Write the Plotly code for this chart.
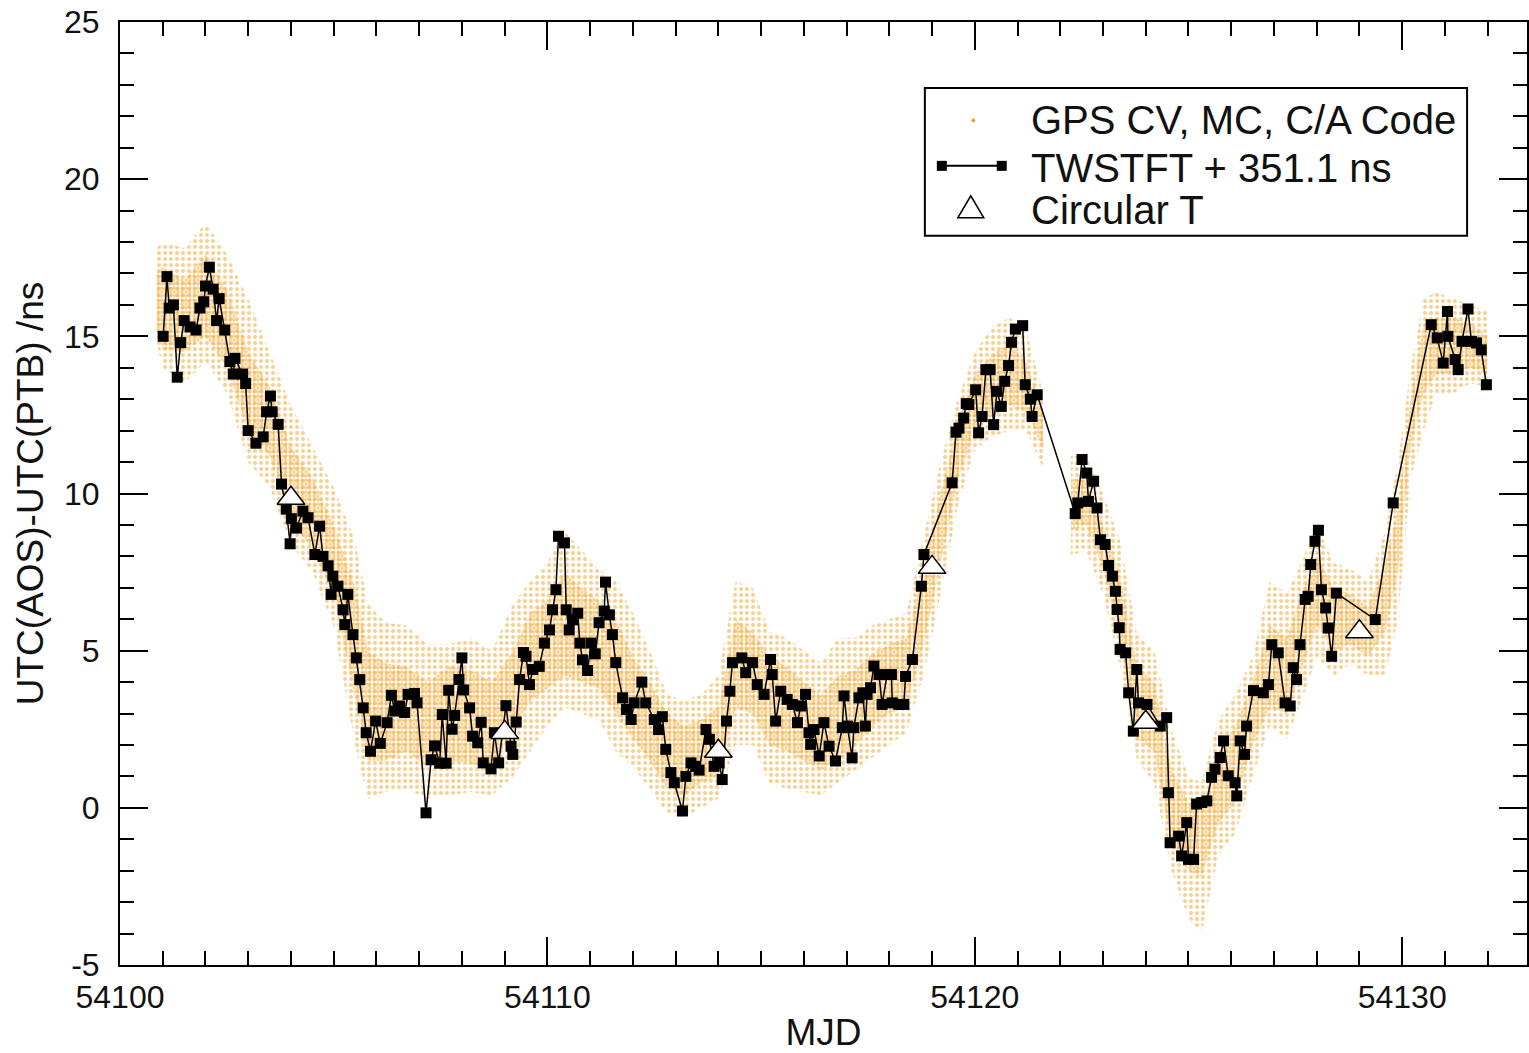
import plotly.graph_objects as go

# ---------------- data ----------------
TW_X = [54101.01, 54101.10, 54101.15, 54101.25, 54101.34, 54101.42, 54101.50, 54101.64, 54101.78, 54101.87,
        54101.96, 54102.00, 54102.09, 54102.18, 54102.26, 54102.32, 54102.45, 54102.57, 54102.65, 54102.69,
        54102.87, 54102.94, 54103.00, 54103.18, 54103.35, 54103.43, 54103.52, 54103.56, 54103.70, 54103.78,
        54103.89, 54103.98, 54104.01, 54104.13, 54104.28, 54104.40, 54104.56, 54104.67, 54104.75, 54104.87,
        54104.94, 54104.98, 54105.10, 54105.22, 54105.26, 54105.33, 54105.45, 54105.53, 54105.61, 54105.69,
        54105.76, 54105.86, 54105.98, 54106.09, 54106.25, 54106.35, 54106.43, 54106.54, 54106.66, 54106.74,
        54106.89, 54106.95, 54107.16, 54107.28, 54107.36, 54107.48, 54107.54, 54107.63, 54107.69, 54107.77,
        54107.83, 54107.93, 54108.00, 54108.04, 54108.18, 54108.25, 54108.37, 54108.45, 54108.50, 54108.68,
        54108.76, 54108.86, 54109.03, 54109.15, 54109.19, 54109.27, 54109.35, 54109.44, 54109.50, 54109.58,
        54109.66, 54109.81, 54109.93, 54110.05, 54110.12, 54110.20, 54110.26, 54110.40, 54110.44, 54110.51,
        54110.59, 54110.71, 54110.76, 54110.82, 54110.94, 54111.02, 54111.12, 54111.21, 54111.33, 54111.36,
        54111.45, 54111.52, 54111.60, 54111.76, 54111.85, 54111.96, 54112.03, 54112.21, 54112.30, 54112.50,
        54112.60, 54112.69, 54112.77, 54112.89, 54112.97, 54113.16, 54113.24, 54113.36, 54113.47, 54113.55,
        54113.71, 54113.79, 54113.90, 54114.02, 54114.09, 54114.19, 54114.27, 54114.33, 54114.55, 54114.64,
        54114.80, 54114.91, 54115.07, 54115.22, 54115.26, 54115.34, 54115.46, 54115.61, 54115.73, 54115.85,
        54115.93, 54116.04, 54116.12, 54116.16, 54116.24, 54116.36, 54116.47, 54116.59, 54116.74, 54116.90,
        54116.94, 54117.02, 54117.13, 54117.17, 54117.29, 54117.38, 54117.44, 54117.48, 54117.56, 54117.64,
        54117.76, 54117.83, 54117.95, 54118.05, 54118.07, 54118.22, 54118.34, 54118.38, 54118.54, 54118.75,
        54118.81, 54119.47, 54119.56, 54119.63, 54119.74, 54119.80, 54119.86, 54120.02, 54120.09, 54120.17,
        54120.26, 54120.36, 54120.44, 54120.52, 54120.62, 54120.70, 54120.79, 54120.86, 54120.95, 54121.12,
        54121.18, 54121.30, 54121.34, 54121.46, 54122.35, 54122.41, 54122.51, 54122.62, 54122.66, 54122.78,
        54122.86, 54122.94, 54123.05, 54123.13, 54123.22, 54123.29, 54123.33, 54123.38, 54123.40, 54123.53,
        54123.60, 54123.71, 54123.79, 54123.83, 54124.03, 54124.34, 54124.49, 54124.53, 54124.57, 54124.77,
        54124.84, 54124.96, 54125.00, 54125.12, 54125.19, 54125.31, 54125.43, 54125.54, 54125.62, 54125.74,
        54125.82, 54125.93, 54126.09, 54126.13, 54126.21, 54126.31, 54126.36, 54126.52, 54126.75, 54126.87,
        54126.95, 54127.10, 54127.26, 54127.38, 54127.45, 54127.53, 54127.61, 54127.73, 54127.80, 54127.86,
        54127.96, 54128.04, 54128.11, 54128.21, 54128.27, 54128.35, 54128.46, 54129.37, 54129.79, 54130.68,
        54130.82, 54130.96, 54131.06, 54131.07, 54131.24, 54131.31, 54131.40, 54131.54, 54131.62, 54131.74,
        54131.85, 54131.97]
TW_Y = [15.0, 16.9, 15.9, 16.0, 13.7, 14.8, 15.5, 15.3, 15.2, 15.9,
        16.1, 16.6, 17.2, 16.5, 15.5, 16.2, 15.2, 14.2, 13.8, 14.3,
        13.8, 13.5, 12.0, 11.6, 11.8, 12.6, 13.1, 12.6, 12.2, 10.3,
        9.5, 8.4, 9.2, 8.9, 9.44, 9.23, 8.06, 8.96, 8.0, 7.7,
        6.79, 7.37, 7.05, 6.3, 5.83, 6.79, 5.51, 4.77, 4.08, 3.18,
        2.39, 1.8, 2.76, 2.05, 2.71, 3.58, 3.08, 3.24, 3.03, 3.61,
        3.64, 3.34, -0.16, 1.53, 1.97, 1.42, 2.97, 1.42, 3.74, 2.5,
        2.94, 4.08, 4.77, 3.75, 3.18, 2.28, 2.07, 2.72, 1.43, 1.24,
        2.39, 1.43, 3.25, 1.96, 1.70, 2.73, 4.08, 4.94, 4.82, 3.92,
        4.4, 4.5, 5.24, 5.66, 6.30, 6.94, 8.64, 8.43, 6.3, 5.66,
        5.98, 6.19, 5.24, 4.71, 4.37, 5.24, 4.9, 5.89, 6.26, 7.18,
        6.14, 5.51, 4.62, 3.5, 3.13, 2.81, 3.34, 4.0, 3.34, 2.81,
        2.49, 2.9, 1.86, 1.12, 0.8, -0.1, 1.0, 1.43, 1.32, 1.2,
        2.49, 2.18, 1.32, 1.43, 0.9, 2.76, 3.71, 4.62, 4.77, 4.3,
        4.62, 3.92, 3.61, 4.72, 4.24, 2.76, 3.71, 3.45, 3.29, 2.71,
        3.24, 3.61, 2.39, 2.02, 2.49, 1.65, 2.71, 1.96, 1.49, 2.55,
        3.56, 2.6, 1.59, 2.55, 3.5, 3.66, 2.6, 3.61, 3.82, 4.51,
        4.24, 3.29, 4.24, 4.24, 3.34, 3.29, 3.29, 4.18, 4.72, 7.05,
        8.06, 10.34, 11.95, 12.08, 12.40, 12.86, 12.83, 13.3, 11.93, 12.45,
        13.94, 13.94, 12.19, 13.25, 12.77, 13.57, 14.07, 14.81, 15.23, 15.34,
        13.46, 13.0, 12.45, 13.14, 9.36, 9.70, 11.08, 10.65, 9.75, 10.39,
        9.54, 8.53, 8.38, 7.71, 7.37, 6.89, 6.31, 5.73, 5.04, 4.93,
        3.66, 2.44, 4.4, 3.34, 3.29, 2.6, 2.87, 0.48, -1.11, -0.9,
        -1.53, -0.47, -1.64, -1.64, 0.12, 0.17, 0.22, 0.97, 1.23, 1.6,
        2.13, 1.02, 0.8, 0.38, 2.13, 1.7, 2.6, 3.73, 3.66, 3.92,
        5.19, 4.93, 3.34, 3.24, 4.46, 4.08, 5.19, 6.63, 6.73, 7.74,
        8.48, 8.83, 6.94, 6.36, 5.72, 4.82, 6.83, 5.99, 9.70, 15.37,
        14.95, 14.15, 15.79, 15.0, 14.26, 13.94, 14.84, 15.87, 14.84, 14.79,
        14.57, 13.46]

CT_X = [54104, 54109, 54114, 54119, 54124, 54129]
CT_Y = [9.85, 2.4, 1.8, 7.65, 2.72, 5.6]

# GPS CV cloud: outer envelope (hi/lo) and dense core (core_hi/core_lo), two segments
GPS1_X = [54100.85, 54101.0, 54101.5, 54102.0, 54102.5, 54103.0, 54103.5, 54104.0, 54104.5, 54105.0,
          54105.5, 54105.8, 54106.2, 54106.7, 54107.2, 54107.7, 54108.2, 54108.7, 54109.2, 54109.6,
          54110.0, 54110.4, 54110.8, 54111.2, 54111.6, 54112.0, 54112.4, 54112.8, 54113.2, 54113.6,
          54114.0, 54114.4, 54114.8, 54115.2, 54115.6, 54116.0, 54116.4, 54116.8, 54117.2, 54117.6,
          54118.0, 54118.4, 54118.8, 54119.2, 54119.6, 54120.0, 54120.4, 54120.8, 54121.2, 54121.6]
GPS1_HI = [17.8, 18.0, 17.8, 18.6, 17.6, 16.2, 14.5, 12.8, 11.5, 10.2,
           8.5, 6.5, 5.9, 5.8, 5.2, 5.2, 5.4, 5.0, 6.5, 7.2,
           7.8, 8.8, 8.2, 7.6, 7.2, 6.2, 5.0, 3.6, 3.4, 3.6,
           4.2, 7.2, 7.0, 5.6, 5.4, 5.0, 4.6, 5.4, 5.4, 5.8,
           6.0, 6.2, 8.6, 11.0, 13.0, 14.5, 15.3, 15.6, 15.2, 13.2]
GPS1_LO = [14.8, 14.0, 13.5, 14.2, 13.2, 11.0, 10.2, 8.4, 7.5, 5.8,
           2.0, 0.3, 0.5, 0.6, 0.3, 0.4, 0.5, 0.4, 1.0, 1.8,
           2.6, 3.2, 3.0, 2.8, 1.8, 1.3, 0.6, -0.2, -0.3, 0.0,
           0.3, 2.0, 2.0, 0.8, 0.6, 0.5, 0.4, 0.8, 1.2, 1.6,
           2.0, 2.4, 4.2, 6.8, 9.6, 11.4, 11.8, 12.0, 12.0, 10.8]
GPS1_CORE_HI = [17.0, 17.2, 16.8, 17.6, 16.5, 14.5, 13.4, 11.5, 10.5, 9.0,
                7.0, 5.0, 4.6, 4.5, 4.0, 4.5, 4.4, 4.0, 5.0, 6.2,
                6.6, 7.5, 7.0, 6.6, 6.0, 4.8, 4.0, 3.0, 2.6, 2.8,
                3.2, 6.0, 5.6, 4.8, 4.5, 4.0, 3.6, 4.2, 4.4, 4.9,
                5.2, 5.4, 7.6, 10.0, 12.2, 13.8, 14.4, 14.8, 14.2, 12.6]
GPS1_CORE_LO = [15.2, 14.6, 14.5, 15.0, 14.0, 12.0, 11.2, 9.2, 8.2, 6.8,
                3.5, 1.5, 1.5, 1.8, 1.3, 1.5, 1.4, 1.2, 2.5, 3.4,
                3.8, 4.2, 4.0, 3.8, 3.0, 2.2, 1.5, 0.6, 0.4, 0.8,
                1.0, 3.2, 3.0, 2.0, 1.8, 1.5, 1.2, 1.5, 2.0, 2.6,
                3.0, 3.2, 5.2, 7.8, 10.4, 12.0, 12.4, 12.8, 12.6, 11.4]

GPS2_X = [54122.25, 54122.6, 54123.0, 54123.4, 54123.8, 54124.2, 54124.6, 54125.0, 54125.3, 54125.7,
          54126.1, 54126.5, 54126.9, 54127.3, 54127.7, 54128.0, 54128.4, 54128.8, 54129.2, 54129.6,
          54129.9, 54130.2, 54130.5, 54130.8, 54131.2, 54131.6, 54132.0]
GPS2_HI = [11.2, 11.2, 10.0, 8.5, 5.5, 5.0, 2.5, 1.0, 0.8, 2.8,
           3.6, 4.8, 7.2, 6.8, 8.0, 9.0, 7.8, 7.6, 7.2, 8.8,
           11.0, 14.0, 16.2, 16.4, 16.2, 16.0, 15.8]
GPS2_LO = [8.0, 8.2, 6.8, 4.5, 1.5, 0.8, -2.0, -3.5, -4.0, -1.5,
           -0.8, 1.0, 2.6, 2.2, 3.6, 4.8, 4.2, 4.6, 4.2, 4.2,
           6.0, 10.5, 12.0, 13.2, 13.2, 13.5, 13.4]
GPS2_CORE_HI = [10.5, 10.4, 9.0, 7.4, 4.5, 4.0, 1.2, 0.2, 0.0, 1.8,
                2.6, 4.0, 5.8, 5.4, 7.0, 8.0, 7.0, 6.8, 6.4, 7.8,
                9.5, 13.0, 15.4, 15.6, 15.6, 15.4, 15.0]
GPS2_CORE_LO = [8.8, 9.0, 7.6, 5.4, 2.2, 1.8, -1.2, -2.0, -2.2, -0.5,
                0.2, 2.0, 3.2, 3.0, 4.6, 5.8, 5.0, 5.2, 4.8, 5.6,
                7.5, 11.5, 13.2, 13.8, 13.8, 14.0, 13.8]

X_TICKS = [54100, 54110, 54120, 54130]
Y_TICKS = [-5, 0, 5, 10, 15, 20, 25]

# ---------------- figure ----------------
W, H = 1529, 1053
ML, MR, MT, MB = 120, 0, 22, 87
ORANGE = "#efa020"
FONT = "Liberation Sans, Arial, Helvetica, sans-serif"
TXT = "#111111"

fig = go.Figure()


def band(xs, hi, lo, size, solidity, alpha):
    fig.add_trace(go.Scatter(
        x=list(xs) + list(xs)[::-1],
        y=list(hi) + list(lo)[::-1],
        mode="none", fill="toself",
        fillcolor="rgba(239,160,32,%s)" % alpha,
        fillpattern=dict(shape=".", fgcolor=ORANGE, bgcolor="rgba(255,255,255,0)",
                         size=size, solidity=solidity),
        hoverinfo="skip", showlegend=False))


for xs, hi, lo, chi, clo in [(GPS1_X, GPS1_HI, GPS1_LO, GPS1_CORE_HI, GPS1_CORE_LO),
                             (GPS2_X, GPS2_HI, GPS2_LO, GPS2_CORE_HI, GPS2_CORE_LO)]:
    band(xs, hi, lo, 6, 0.35, 0.04)
    band(xs, chi, clo, 4, 0.55, 0.10)

fig.add_trace(go.Scatter(
    x=TW_X, y=TW_Y, mode="lines+markers",
    line=dict(color="black", width=1.5),
    marker=dict(symbol="square", size=11, color="black"),
    name="TWSTFT + 351.1 ns", showlegend=False))

fig.add_trace(go.Scatter(
    x=CT_X, y=CT_Y, mode="markers",
    marker=dict(symbol="triangle-up", size=24, color="white",
                line=dict(color="black", width=1.5)),
    name="Circular T", showlegend=False))

# ---------------- axes ----------------
tickfont = dict(family=FONT, size=32, color=TXT)
fig.update_xaxes(
    range=[54100, 54100 + (W - ML - MR) / 42.8],
    tickvals=X_TICKS, ticktext=[str(v) for v in X_TICKS],
    ticks="inside", ticklen=28, tickwidth=2, tickcolor="black",
    minor=dict(dtick=1, tick0=54100, ticks="inside", ticklen=14, tickwidth=2, tickcolor="black"),
    showline=True, linewidth=2, linecolor="black", mirror="ticks",
    showgrid=False, zeroline=False, tickfont=tickfont, ticklabelstandoff=3,
    title=dict(text="MJD", font=dict(family=FONT, size=37, color=TXT), standoff=12))
fig.update_yaxes(
    range=[-5, 25],
    tickvals=Y_TICKS, ticktext=[str(v) for v in Y_TICKS],
    ticks="inside", ticklen=28, tickwidth=2, tickcolor="black",
    minor=dict(dtick=1, tick0=0, ticks="inside", ticklen=14, tickwidth=2, tickcolor="black"),
    showline=True, linewidth=2, linecolor="black", mirror="ticks",
    showgrid=False, zeroline=False, tickfont=tickfont, ticklabelstandoff=12,
    title=dict(text="UTC(AOS)-UTC(PTB) /ns", font=dict(family=FONT, size=37, color=TXT), standoff=9))

# ---------------- legend (drawn) ----------------
PW, PH = W - ML - MR, H - MT - MB


def px(xp):
    return (xp - ML) / PW


def py(yp):
    return (H - MB - yp) / PH


shapes = []
shapes.append(dict(type="rect", xref="paper", yref="paper", x0=px(926), x1=px(1469), y0=py(236), y1=py(88),
                   line=dict(color="black", width=2), fillcolor="white", layer="above"))
shapes.append(dict(type="circle", xref="paper", yref="paper", x0=px(973), x1=px(976), y0=py(122), y1=py(119),
                   line=dict(color=ORANGE, width=1), fillcolor=ORANGE, layer="above"))
shapes.append(dict(type="line", xref="paper", yref="paper", x0=px(943), x1=px(1003), y0=py(166), y1=py(166),
                   line=dict(color="black", width=2), layer="above"))
for cx in (943, 1003):
    shapes.append(dict(type="rect", xref="paper", yref="paper", x0=px(cx - 5), x1=px(cx + 5), y0=py(171), y1=py(161),
                       line=dict(color="black", width=0), fillcolor="black", layer="above"))
shapes.append(dict(type="path", xref="paper", yref="paper",
                   path="M %f %f L %f %f L %f %f Z" % (px(959), py(218), px(985), py(218), px(972), py(196)),
                   line=dict(color="black", width=1.5), fillcolor="white", layer="above"))
fig.update_layout(shapes=shapes)

for text, yy in [("GPS CV, MC, C/A Code", 120), ("TWSTFT + 351.1 ns", 168), ("Circular T", 210)]:
    fig.add_annotation(xref="paper", yref="paper", x=px(1030), y=py(yy), text=text, showarrow=False,
                       xanchor="left", yanchor="middle", font=dict(family=FONT, size=40, color=TXT))

fig.update_layout(
    width=W, height=H, margin=dict(l=ML, r=MR, t=MT, b=MB, pad=0),
    paper_bgcolor="white", plot_bgcolor="white", showlegend=False,
    font=dict(family=FONT, color=TXT))

fig.write_html("out.html", config={"displayModeBar": False},
               post_script="document.body.style.margin='0';document.body.style.overflow='hidden';")
